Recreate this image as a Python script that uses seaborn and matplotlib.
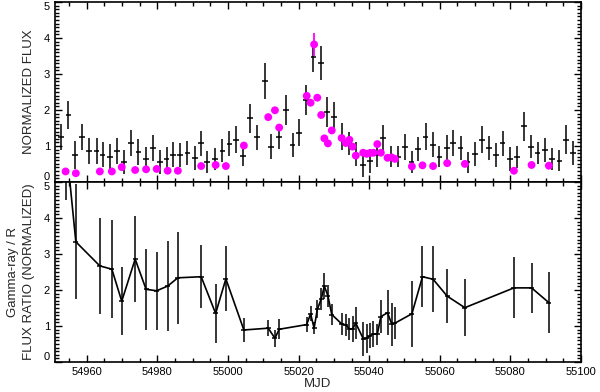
import matplotlib
matplotlib.use("Agg")
import matplotlib.pyplot as plt
import seaborn as sns
from matplotlib.ticker import MultipleLocator

# gamma-ray flux (black crosses)
gamma_mjd = [54952.7, 54954.8, 54956.7, 54958.6, 54960.7, 54962.8, 54964.5, 54966.6, 54968.5, 54970.5,
             54972.5, 54974.6, 54976.7, 54978.7, 54980.7, 54982.6, 54984.5, 54986.4, 54988.5, 54990.7,
             54992.4, 54994.1, 54996.3, 54998.4, 55000.4, 55002.3, 55004.2, 55006.2, 55008.3, 55010.4,
             55012.2, 55014.5, 55016.4, 55018.3, 55020.2, 55022.1, 55024.2, 55026.3, 55028.0, 55030.1,
             55032.2, 55034.3, 55036.2, 55038.2, 55040.2, 55042.2, 55044.0, 55046.1, 55048.2, 55050.2,
             55052.0, 55053.9, 55056.0, 55058.0, 55059.9, 55062.0, 55063.8, 55065.9, 55067.9, 55070.0,
             55072.0, 55074.0, 55075.9, 55077.8, 55079.9, 55081.8, 55083.9, 55085.8, 55087.7, 55089.8,
             55091.7, 55093.9, 55095.8, 55097.7]
gamma_flux = [1.25, 1.86, 0.75, 1.25, 0.86, 0.86, 0.75, 0.70, 0.86, 0.56,
              1.08, 0.83, 0.64, 0.94, 0.56, 0.64, 0.75, 0.75, 0.81, 0.67,
              1.07, 0.56, 0.63, 0.87, 1.06, 1.17, 0.73, 1.77, 1.24, 2.79,
              0.98, 1.26, 2.00, 1.03, 1.37, 2.28, 3.46, 3.31, 1.95, 1.81,
              1.26, 1.07, 0.78, 0.47, 0.59, 0.75, 1.21, 0.70, 0.70, 0.97,
              0.55, 0.91, 1.26, 1.03, 0.70, 0.94, 1.08, 0.94, 0.54, 0.78,
              1.17, 0.94, 0.75, 1.07, 0.63, 0.69, 1.54, 0.98, 0.80, 0.89,
              0.63, 0.59, 1.17, 0.81]
gamma_err = [0.35, 0.38, 0.40, 0.37, 0.37, 0.37, 0.35, 0.35, 0.35, 0.33,
             0.35, 0.35, 0.33, 0.35, 0.33, 0.33, 0.35, 0.33, 0.33, 0.33,
             0.35, 0.30, 0.30, 0.33, 0.35, 0.37, 0.30, 0.40, 0.35, 0.50,
             0.35, 0.35, 0.42, 0.33, 0.37, 0.42, 0.42, 0.48, 0.42, 0.40,
             0.37, 0.33, 0.33, 0.33, 0.33, 0.33, 0.37, 0.30, 0.30, 0.35,
             0.30, 0.33, 0.37, 0.35, 0.30, 0.35, 0.35, 0.33, 0.30, 0.33,
             0.37, 0.33, 0.33, 0.35, 0.33, 0.30, 0.40, 0.33, 0.30, 0.33,
             0.30, 0.30, 0.40, 0.33]

# R-band flux (magenta) and ratio, same epochs
r_mjd = [54954.0, 54956.9, 54963.7, 54967.1, 54969.9, 54973.7, 54976.8, 54979.8, 54982.9, 54985.8,
         54992.4, 54996.5, 54999.4, 55004.5, 55011.4, 55013.3, 55014.5, 55022.3, 55023.4, 55024.4,
         55025.3, 55026.4, 55027.3, 55028.3, 55029.4, 55032.2, 55033.4, 55034.4, 55035.3, 55036.2,
         55038.3, 55039.3, 55040.2, 55041.2, 55042.3, 55043.3, 55045.2, 55046.4, 55047.3, 55052.1,
         55055.1, 55058.1, 55062.1, 55067.1, 55081.0, 55086.0, 55090.9]
r_flux = [0.29, 0.24, 0.29, 0.29, 0.41, 0.33, 0.35, 0.36, 0.31, 0.31,
          0.44, 0.47, 0.44, 1.01, 1.80, 1.99, 1.51, 2.39, 2.20, 3.82,
          2.34, 1.86, 1.21, 1.07, 1.43, 1.22, 1.08, 1.17, 0.98, 0.73,
          0.81, 0.78, 0.80, 0.81, 1.05, 0.81, 0.67, 0.68, 0.64, 0.43,
          0.46, 0.44, 0.52, 0.50, 0.31, 0.47, 0.45]
r_err = [0.08] * 19 + [0.33] + [0.08] * 27

ratio = [6.2, 3.34, 2.67, 2.58, 1.69, 2.86, 2.02, 1.98, 2.11, 2.34,
         2.37, 1.35, 2.31, 0.89, 0.94, 0.66, 0.91, 1.04, 1.34, 0.94,
         1.46, 1.75, 2.11, 1.84, 1.32, 1.06, 1.03, 0.92, 0.92, 1.08,
         0.65, 0.66, 0.73, 0.78, 0.77, 1.26, 1.37, 1.05, 1.08, 1.34,
         2.37, 2.30, 1.83, 1.51, 2.06, 2.06, 1.65]
ratio_err = [1.7, 1.6, 1.33, 1.37, 0.95, 1.2, 1.13, 1.09, 1.26, 1.27,
             0.88, 0.83, 0.9, 0.34, 0.23, 0.24, 0.28, 0.2, 0.21, 0.16,
             0.25, 0.3, 0.37, 0.3, 0.28, 0.3, 0.3, 0.3, 0.35, 0.45,
             0.47, 0.4, 0.35, 0.35, 0.3, 0.46, 0.63, 0.6, 0.45, 0.92,
             0.84, 0.92, 0.75, 0.79, 0.85, 0.69, 0.85]

sns.set_style("ticks")
plt.rcParams['font.family'] = ['Liberation Sans', 'DejaVu Sans']

fig = plt.figure(figsize=(6, 3.92), dpi=100)
ax1 = fig.add_axes([0.0917, 0.536, 0.8766, 0.459])
ax2 = fig.add_axes([0.0917, 0.0765, 0.8766, 0.459])

# top panel
ax1.errorbar(gamma_mjd, gamma_flux, xerr=0.8, yerr=gamma_err, fmt='none',
             ecolor='black', elinewidth=1.1, capsize=0, zorder=2)
ax1.errorbar(r_mjd, r_flux, yerr=r_err, fmt='none', ecolor='#ff00ff',
             elinewidth=1.3, capsize=0, zorder=3)
sns.scatterplot(x=r_mjd, y=r_flux, ax=ax1, color='#ff00ff', s=32,
                edgecolor='none', zorder=4)

# bottom panel
sns.lineplot(x=r_mjd, y=ratio, ax=ax2, color='black', lw=1.2,
             sort=False, estimator=None)
ax2.errorbar(r_mjd, ratio, xerr=0.7, yerr=ratio_err, fmt='none',
             ecolor='black', elinewidth=1.1, capsize=0)

for ax in (ax1, ax2):
    ax.set_xlim(54951, 55100)
    ax.set_ylim(0, 5)
    ax.xaxis.set_major_locator(MultipleLocator(20))
    ax.xaxis.set_minor_locator(MultipleLocator(5))
    ax.set_yticks([0, 1, 2, 3, 4, 5])
    ax.yaxis.set_minor_locator(MultipleLocator(0.1))
    ax.tick_params(which='both', direction='in', top=True, right=True,
                   width=1.0, labelsize=8, colors='black')
    ax.tick_params(which='major', length=5)
    ax.tick_params(which='minor', length=2.8)
    for sp in ax.spines.values():
        sp.set_linewidth(1.2)
        sp.set_color('black')
    # keep end labels inside the panel, like the original
    yt = ax.yaxis.get_major_ticks()
    yt[0].label1.set_verticalalignment('bottom')
    yt[-1].label1.set_verticalalignment('top')

ax1.tick_params(labelbottom=False)
ax1.set_ylabel("NORMALIZED FLUX", fontsize=9.5)
ax1.yaxis.set_label_coords(-0.038, 0.5)
ax2.set_ylabel("Gamma-ray / R\nFLUX RATIO (NORMALIZED)", fontsize=9.5, linespacing=1.5)
ax2.yaxis.set_label_coords(-0.038, 0.5)
ax2.set_xlabel("MJD", fontsize=9.5, labelpad=1)

fig.savefig("out.png", dpi=100)
